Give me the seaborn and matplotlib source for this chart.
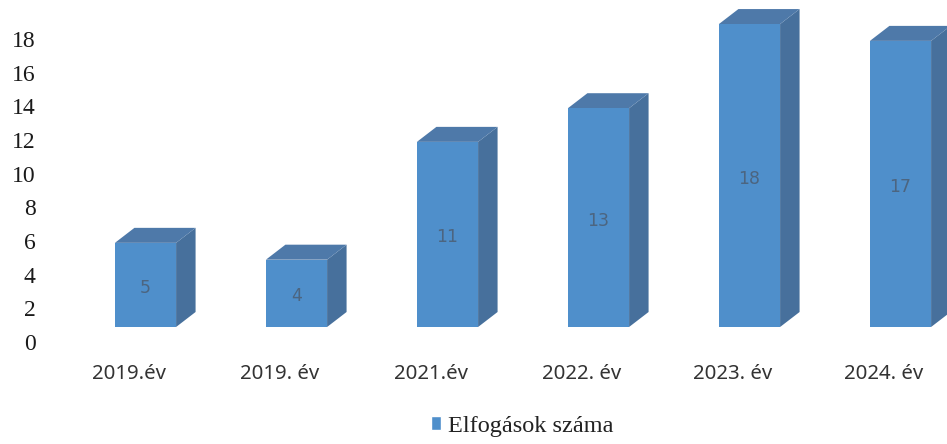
import matplotlib
matplotlib.use("Agg")
import matplotlib.pyplot as plt
from matplotlib.patches import Polygon, Patch
from matplotlib.transforms import ScaledTranslation
import seaborn as sns
import pandas as pd

categories = ["2019.év", "2019. év", "2021.év", "2022. év", "2023. év", "2024. év"]
values = [5, 4, 11, 13, 18, 17]
y_ticks = [0, 2, 4, 6, 8, 10, 12, 14, 16, 18]
series_name = "Elfogások száma"

FRONT = "#4f8fcb"
SIDE = "#47709c"
TOP = "#4e79a9"
W, H = 947, 444

sns.set_theme(style="white")
fig = plt.figure(figsize=(W / 100, H / 100), dpi=100)
ax = fig.add_axes([40 / W, (H - 327) / H, (W - 40) / W, 327 / H])

df = pd.DataFrame({"year": categories, "n": values})
sns.barplot(data=df, x="year", y="n", color=FRONT, saturation=1, width=0.405, ax=ax,
            zorder=3, linewidth=0, edgecolor="none")

ax.set_xlim((40 - 145.5) / 151, (947 - 145.5) / 151)
ax.set_ylim(0, 327 / 16.83)
ax.set_xlabel("")
ax.set_ylabel("")
for s in ax.spines.values():
    s.set_visible(False)

dx, dy = 19.5 / 151, 15 / 16.83
for bar in ax.containers[0]:
    x0, w, h = bar.get_x(), bar.get_width(), bar.get_height()
    x1 = x0 + w
    ax.add_patch(Polygon([(x1, 0), (x1 + dx, dy), (x1 + dx, h + dy), (x1, h)],
                         closed=True, fc=SIDE, ec="none", zorder=2, clip_on=False))
    ax.add_patch(Polygon([(x0, h), (x0 + dx, h + dy), (x1 + dx, h + dy), (x1, h)],
                         closed=True, fc=TOP, ec="none", zorder=2, clip_on=False))

ax.bar_label(ax.containers[0], label_type="center", fontsize=12.5, padding=-2.2,
             color="#4c6580", family="DejaVu Sans", zorder=5)

ax.set_yticks(y_ticks)
ax.set_yticklabels([str(v) for v in y_ticks], family="Liberation Serif", fontsize=17, color="#1a1a1a")
ax.tick_params(axis="y", length=0, pad=3.2)
ax.tick_params(axis="x", length=0, pad=26.5)
ax.set_xticks(range(len(categories)))
ax.set_xticklabels(categories, family="Noto Sans", fontsize=14.7, color="#333333")
yshift = ScaledTranslation(0, -15 / 100, fig.dpi_scale_trans)
for lab in ax.get_yticklabels():
    lab.set_transform(lab.get_transform() + yshift)
xshift = ScaledTranslation(-17 / 100, 0, fig.dpi_scale_trans)
for lab in ax.get_xticklabels():
    lab.set_transform(lab.get_transform() + xshift)
ax.grid(False)

fig.legend(handles=[Patch(facecolor=FRONT, label=series_name)],
           loc="center", bbox_to_anchor=(522.5 / W, (H - 426) / H), frameon=False,
           prop={"family": "Liberation Serif", "size": 17.5}, labelcolor="#222222",
           handlelength=0.38, handleheight=0.5, handletextpad=0.3)

fig.savefig("out.png", dpi=100, facecolor="white")
